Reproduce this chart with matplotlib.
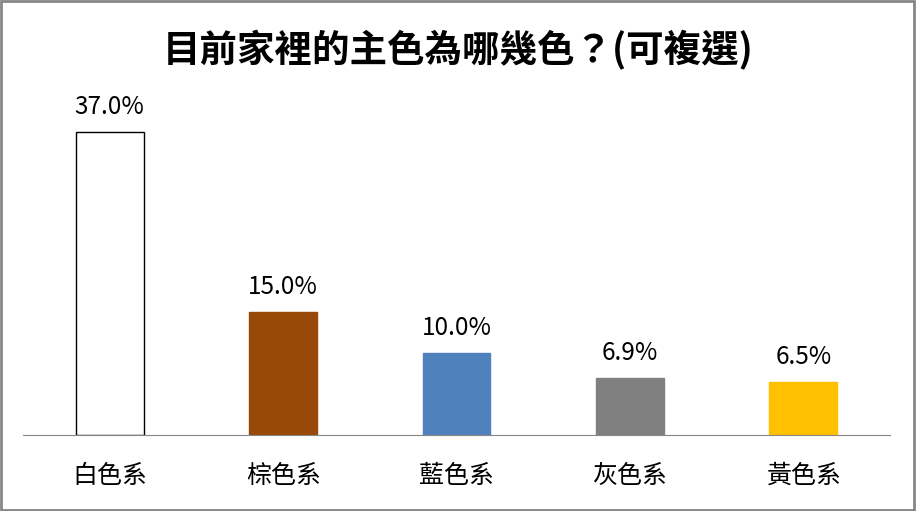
import matplotlib
matplotlib.use("Agg")
import matplotlib.pyplot as plt
from matplotlib.patches import Rectangle

plt.rcParams['font.family'] = ['Noto Sans CJK TC', 'DejaVu Sans']

title = '目前家裡的主色為哪幾色？(可複選)'
categories = ['白色系', '棕色系', '藍色系', '灰色系', '黃色系']
values = [37.0, 15.0, 10.0, 6.9, 6.5]
colors = ['#FFFFFF', '#984807', '#4F81BD', '#808080', '#FFC000']
edges = ['#000000', '#984807', '#4F81BD', '#808080', '#FFC000']

fig = plt.figure(figsize=(9.16, 5.11), dpi=100)
ax = fig.add_axes([23 / 916, 1 - 435 / 511, 867 / 916, 345 / 511])

x = list(range(len(categories)))
ax.bar(x, values, width=0.39, color=colors, edgecolor=edges, linewidth=1)
for xi, v in zip(x, values):
    ax.annotate(f'{v:.1f}%', (xi, v), xytext=(0, 18), textcoords='offset points',
                ha='center', va='center', fontsize=17.5)

ax.set_xlim(-0.5, 4.5)
ax.set_ylim(0, 42.1)
ax.set_xticks(x)
ax.set_xticklabels(categories, fontsize=18)
ax.tick_params(axis='x', length=0, pad=20)
ax.set_yticks([])
for s in ['top', 'right', 'left']:
    ax.spines[s].set_visible(False)
ax.spines['bottom'].set_color('#868686')

fig.text(0.5, 1 - 50 / 511, title, ha='center', va='center', fontsize=27, fontweight='bold')

fig.patches.append(Rectangle((0.001, 0.002), 0.997, 0.996, transform=fig.transFigure,
                             fill=False, edgecolor='#868686', linewidth=2))

fig.savefig('out.png', dpi=100)
